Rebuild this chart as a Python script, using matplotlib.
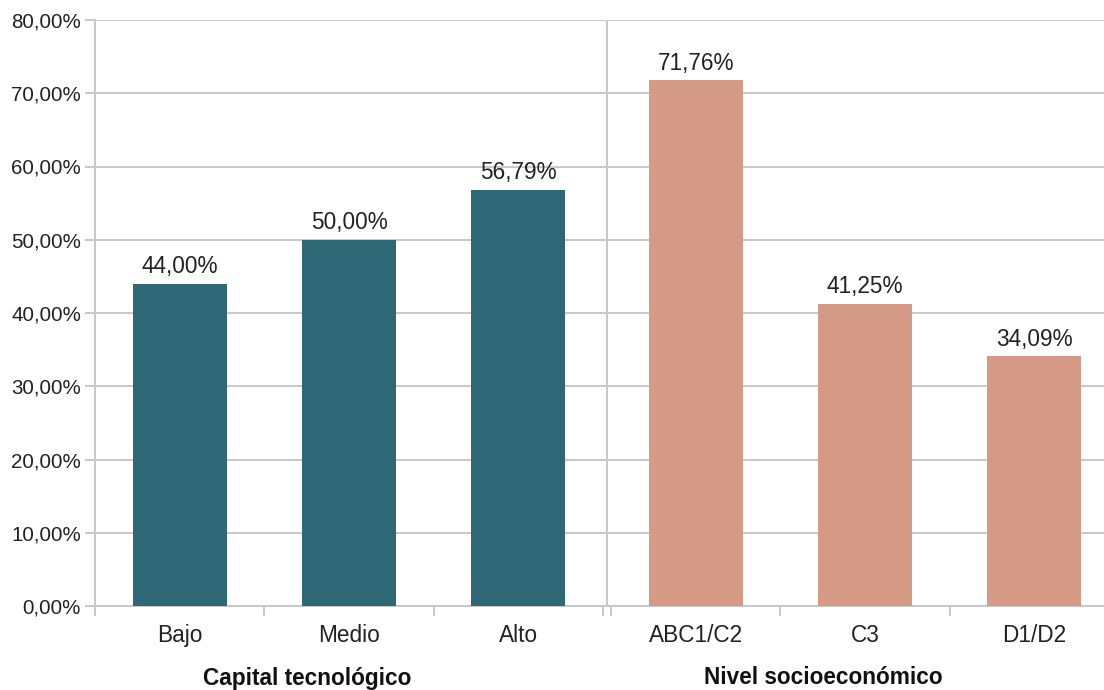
import numpy as np
import matplotlib.pyplot as plt
from matplotlib.ticker import FuncFormatter

plt.rcParams['font.family'] = ['Liberation Sans', 'DejaVu Sans']

groups = ["Capital tecnológico", "Nivel socioeconómico"]
cats_left = ["Bajo", "Medio", "Alto"]
vals_left = [44.00, 50.00, 56.79]
cats_right = ["ABC1/C2", "C3", "D1/D2"]
vals_right = [71.76, 41.25, 34.09]

teal = "#2e6775"
salmon = "#d49a86"
grid_col = "#c8c8c8"

gap = 0.047
bw = 0.555
xl = np.arange(len(cats_left)) + 0.5
xr = np.arange(len(cats_right)) + 0.5 + len(cats_left) + gap

fig = plt.figure(figsize=(11.04, 6.9), dpi=100)
ax = fig.add_axes([95 / 1104, 84 / 690, 1024 / 1104, 586 / 690])

ax.bar(xl, vals_left, width=bw, color=teal, zorder=3)
ax.bar(xr, vals_right, width=bw, color=salmon, zorder=3)

def pct(v):
    return f"{v:.2f}".replace(".", ",") + "%"

for x, v in list(zip(xl, vals_left)) + list(zip(xr, vals_right)):
    ax.annotate(pct(v), (x, v), xytext=(0, 4), textcoords="offset points",
                ha="center", va="bottom", fontsize=16.3, color="#222222")

ax.set_xlim(0, 6 + gap)
ax.set_ylim(0, 80)
ax.set_yticks(np.arange(0, 81, 10))
ax.yaxis.set_major_formatter(FuncFormatter(lambda v, p: pct(v)))
ax.grid(axis="y", color=grid_col, linewidth=1.4, zorder=0)
ax.axvline(3 + gap / 2, color=grid_col, linewidth=1.4, zorder=1)

ax.set_xticks(np.concatenate([xl, xr]))
ax.set_xticklabels(cats_left + cats_right)
edges = [0, 1, 2, 3, 3 + gap, 4 + gap, 5 + gap, 6 + gap]
ax.set_xticks(edges, minor=True)
ax.tick_params(axis="x", which="major", length=0, pad=13, labelsize=16.3, colors="#222222")
ax.tick_params(axis="x", which="minor", length=7, width=1.4, color=grid_col)
ax.tick_params(axis="y", length=7, width=1.4, color=grid_col, labelsize=14.8,
               labelcolor="#222222", pad=3)

for s in ["top", "right"]:
    ax.spines[s].set_visible(False)
for s in ["left", "bottom"]:
    ax.spines[s].set_color(grid_col)
    ax.spines[s].set_linewidth(1.4)

fig.text(307 / 1104, 12 / 690, groups[0], ha="center", va="center",
         fontsize=16.3, fontweight="bold", color="#111111")
fig.text(823 / 1104, 12 / 690, groups[1], ha="center", va="center",
         fontsize=16.3, fontweight="bold", color="#111111")

fig.savefig("out.png", dpi=100)
